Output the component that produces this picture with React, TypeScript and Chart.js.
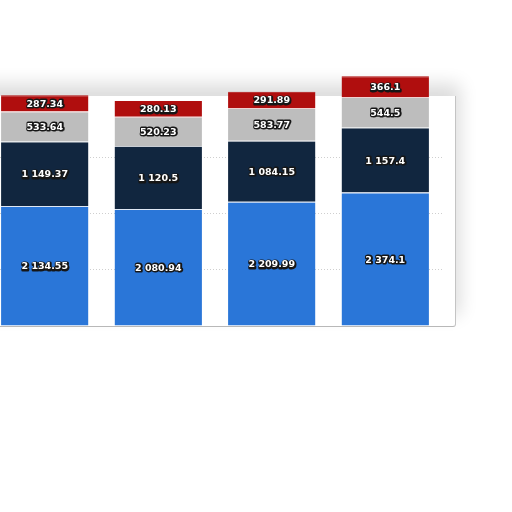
import React, { useEffect, useRef } from "react";
import { Chart, registerables } from "chart.js";

Chart.register(...registerables);

const categories = ["1", "2", "3", "4"];
const blueValues = [2134.55, 2080.94, 2209.99, 2374.1];
const navyValues = [1149.37, 1120.5, 1084.15, 1157.4];
const grayValues = [533.64, 520.23, 583.77, 544.5];
const redValues = [287.34, 280.13, 291.89, 366.1];

const formatValue = (v: number) => {
  const [intPart, decPart] = String(v).split(".");
  const withSpaces = intPart.replace(/\B(?=(\d{3})+(?!\d))/g, " ");
  return decPart ? `${withSpaces}.${decPart}` : withSpaces;
};

// white text with a dark outline, centred in each segment
const segmentLabels = {
  id: "segmentLabels",
  afterDatasetsDraw(chart: Chart) {
    const ctx = chart.ctx;
    ctx.save();
    ctx.font = "bold 9.5px 'DejaVu Sans'";
    ctx.textAlign = "center";
    ctx.textBaseline = "middle";
    ctx.lineJoin = "round";
    chart.data.datasets.forEach((ds, i) => {
      const meta = chart.getDatasetMeta(i);
      meta.data.forEach((bar: any, j) => {
        const text = formatValue(ds.data[j] as number);
        const y = (bar.y + bar.base) / 2 + 1;
        ctx.lineWidth = 3;
        ctx.strokeStyle = "#161616";
        ctx.strokeText(text, bar.x + 0.5, y + 0.5);
        ctx.fillStyle = "#ffffff";
        ctx.fillText(text, bar.x, y);
      });
    });
    ctx.restore();
  },
};

const StackedChart = () => {
  const chartRef = useRef<HTMLCanvasElement | null>(null);

  useEffect(() => {
    if (!chartRef.current) return;
    const ctx = chartRef.current.getContext("2d");
    if (!ctx) return;

    const seg = (data: number[], color: string, edge: string) => ({
      data,
      backgroundColor: color,
      borderColor: edge,
      borderWidth: { top: 1, right: 0, bottom: 0, left: 0 },
      borderSkipped: false as const,
      barPercentage: 0.77,
      categoryPercentage: 1,
    });

    const myChart = new Chart(ctx, {
      type: "bar",
      data: {
        labels: categories,
        datasets: [
          seg(blueValues, "#2a76d8", "#dfe8f5"),
          seg(navyValues, "#11263f", "#c8cdd4"),
          seg(grayValues, "#bdbdbd", "#f0d0d0"),
          seg(redValues, "#b00e0e", "#b00e0e"),
        ],
      },
      options: {
        animation: false,
        responsive: false,
        maintainAspectRatio: false,
        layout: { padding: 0 },
        plugins: { legend: { display: false }, tooltip: { enabled: false } },
        scales: {
          x: { stacked: true, display: false },
          y: {
            stacked: true,
            min: 0,
            max: 5000,
            ticks: { display: false, stepSize: 1000 },
            border: { display: false, dash: [1, 2] },
            grid: {
              drawTicks: false,
              color: (c: any) =>
                c.tick && c.tick.value > 0 && c.tick.value < 4000 ? "#cfcfcf" : "transparent",
              lineWidth: 1,
            },
          },
        },
      },
      plugins: [segmentLabels],
    });

    return () => {
      myChart.destroy();
    };
  }, []);

  return (
    <div
      style={{
        position: "fixed",
        left: 0,
        top: 0,
        width: 512,
        height: 512,
        overflow: "hidden",
        background: "#ffffff",
      }}
    >
      <div
        style={{
          position: "absolute",
          left: -30,
          top: 96,
          width: 485,
          height: 230,
          background: "#ffffff",
          borderRight: "1px solid #c4c4c4",
          borderBottom: "1px solid #b8b8b8",
          borderBottomRightRadius: 3,
          boxShadow: "4px -12px 18px rgba(0,0,0,0.14)",
        }}
      />
      <canvas
        ref={chartRef}
        width={454}
        height={281}
        style={{ position: "absolute", left: -12, top: 45, width: 454, height: 281 }}
      />
    </div>
  );
};

export default function App() {
  return <StackedChart />;
}
